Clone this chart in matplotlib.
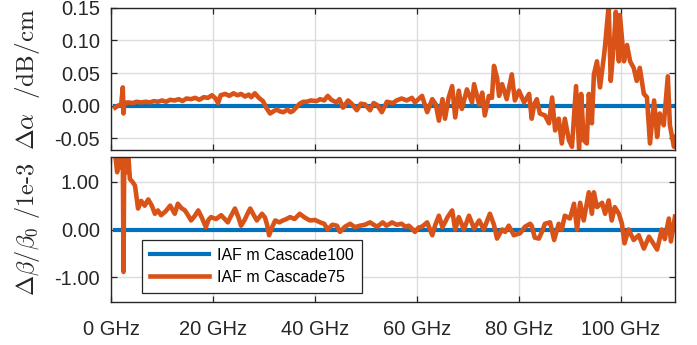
import matplotlib
matplotlib.use("Agg")
import matplotlib.pyplot as plt

plt.rcParams["font.family"] = ["Liberation Sans", "DejaVu Sans"]
plt.rcParams["mathtext.fontset"] = "cm"

# Δα (dB/cm) vs frequency, Cascade75 relative to Cascade100
f_alpha = [0.8, 1.4, 2.0, 2.3, 2.45, 2.6, 3.3, 4.2, 5.0, 5.9, 6.8, 7.6, 8.4, 9.2, 10.0, 10.8,
           11.6, 12.5, 13.3, 14.0, 14.8, 15.7, 16.5, 17.3, 18.2, 19.0, 19.8, 20.5, 21.0, 21.5,
           22.4, 23.2, 24.0, 24.8, 25.5, 26.3, 27.0, 27.5, 28.2, 29.0, 29.8, 30.5, 31.2, 32.0,
           32.5, 33.2, 33.8, 34.6, 35.2, 35.7, 36.4, 37.0, 37.7, 38.4, 39.2, 40.3, 41.0, 41.8,
           42.5, 43.2, 44.2, 44.8, 45.5, 46.5, 47.3, 48.2, 49.0, 49.8, 50.8, 51.5, 52.2, 53.1,
           54.1, 55.3, 56.0, 57.0, 58.0, 59.0, 59.6, 60.3, 61.0, 62.0, 63.0, 63.7, 64.3, 65.0,
           65.5, 66.2, 66.9, 67.5, 68.2, 68.8, 69.8, 70.8, 71.2, 72.2, 72.8, 73.3, 74.1, 74.7,
           75.1, 75.7, 76.1, 76.7, 77.6, 78.6, 79.2, 80.0, 81.0, 82.0, 82.5, 83.0, 83.5, 84.1,
           85.1, 85.9, 86.5, 87.1, 87.8, 88.4, 89.0, 89.8, 90.4, 91.2, 91.8, 92.2, 92.7, 93.3,
           93.7, 94.3, 94.7, 95.3, 95.9, 96.7, 96.9, 97.6, 98.0, 98.6, 99.0, 99.6, 99.8, 100.6,
           101.2, 101.8, 102.5, 103.1, 103.7, 104.5, 105.1, 105.7, 106.5, 107.1, 107.6, 108.4,
           109.2, 109.6, 110.4, 110.8]
d_alpha = [-0.003, 0.000, 0.002, 0.028, -0.012, 0.004, 0.005, 0.004, 0.006, 0.005, 0.006, 0.005,
           0.007, 0.006, 0.008, 0.006, 0.009, 0.008, 0.010, 0.007, 0.011, 0.010, 0.012, 0.009,
           0.013, 0.012, 0.016, 0.011, 0.004, 0.016, 0.018, 0.015, 0.019, 0.016, 0.018, 0.014,
           0.017, 0.013, 0.019, 0.012, 0.007, -0.004, -0.012, -0.008, -0.006, -0.009, -0.010,
           -0.006, -0.010, -0.008, -0.002, 0.003, 0.006, 0.006, 0.008, 0.007, 0.010, 0.008,
           0.015, 0.009, 0.005, 0.010, -0.003, 0.008, 0.002, -0.007, 0.003, 0.002, -0.007,
           0.004, 0.001, -0.010, 0.006, 0.004, 0.008, 0.011, 0.008, 0.012, 0.005, 0.010, 0.015,
           -0.010, 0.010, 0.002, -0.023, 0.010, -0.020, 0.012, 0.030, -0.018, 0.023, -0.005,
           0.025, 0.005, 0.033, 0.002, 0.020, -0.015, 0.015, 0.012, 0.061, 0.043, 0.015, 0.033,
           0.010, 0.048, 0.008, 0.023, 0.005, 0.018, -0.020, 0.002, 0.010, -0.012, -0.015,
           -0.027, 0.0125, -0.038, -0.020, -0.058, -0.020, -0.053, -0.063, 0.030, -0.068, 0.018,
           -0.053, -0.058, 0.018, -0.027, 0.048, 0.068, 0.028, 0.078, 0.093, 0.154, 0.038,
           0.093, 0.144, 0.068, 0.139, 0.068, 0.093, 0.068, 0.058, 0.038, 0.058, 0.018, 0.013,
           -0.058, 0.008, -0.048, -0.012, -0.030, 0.045, -0.030, -0.063, -0.048]

# Δβ/β0 (1e-3) vs frequency
f_beta = [0.8, 1.2, 1.6, 2.0, 2.3, 2.45, 2.6, 3.0, 3.3, 3.7, 4.2, 4.7, 5.3, 5.9, 6.6, 7.3, 8.0,
          8.6, 9.2, 9.8, 10.7, 11.6, 12.5, 13.1, 13.8, 14.5, 15.1, 15.7, 16.4, 17.1, 17.8, 18.6,
          19.1, 19.6, 20.6, 21.6, 22.3, 22.9, 23.6, 24.3, 25.0, 25.5, 26.2, 26.9, 27.3, 28.0,
          28.6, 29.6, 30.2, 30.6, 31.0, 31.6, 32.2, 33.0, 33.7, 34.4, 35.1, 36.0, 37.0, 38.0,
          39.0, 40.0, 41.0, 41.8, 42.5, 43.4, 44.3, 44.9, 45.9, 46.9, 47.8, 48.8, 49.8, 50.8,
          51.5, 52.2, 53.3, 54.0, 54.7, 55.1, 56.0, 57.0, 57.7, 58.4, 59.0, 59.6, 60.3, 61.0,
          62.0, 63.0, 63.6, 64.3, 65.0, 65.5, 66.0, 66.9, 67.5, 68.2, 69.2, 70.2, 71.2, 72.2,
          73.1, 74.3, 75.1, 75.7, 76.7, 77.3, 78.0, 79.0, 80.2, 81.2, 82.2, 82.5, 83.1, 83.9,
          84.5, 85.1, 86.1, 86.9, 87.8, 88.4, 89.0, 90.0, 90.8, 91.4, 92.0, 92.7, 93.7, 94.3,
          94.7, 95.3, 96.3, 96.9, 97.6, 98.2, 98.8, 99.6, 100.2, 100.7, 101.5, 102.5, 103.5,
          104.5, 105.5, 106.1, 107.1, 108.0, 108.6, 109.4, 109.8, 110.6]
d_beta = [1.6, 1.2, 1.7, 1.3, 1.7, -0.89, 1.7, 1.2, 1.7, 1.06, 1.0, 0.92, 0.44, 0.60, 0.50, 0.63,
          0.50, 0.33, 0.40, 0.30, 0.38, 0.50, 0.33, 0.54, 0.45, 0.40, 0.30, 0.19, 0.28, 0.40,
          0.25, 0.05, 0.20, 0.26, 0.22, 0.30, 0.22, 0.15, 0.30, 0.44, 0.25, 0.08, 0.20, 0.36,
          0.44, 0.30, 0.19, 0.33, 0.25, 0.10, -0.12, 0.05, 0.19, 0.15, 0.19, 0.22, 0.26, 0.22,
          0.33, 0.25, 0.19, 0.20, 0.15, 0.12, 0.0, 0.10, 0.08, -0.05, 0.06, 0.12, 0.05, 0.08,
          0.10, 0.15, 0.10, 0.06, 0.15, 0.08, 0.12, 0.15, 0.10, 0.12, 0.06, 0.08, 0.02, -0.05,
          0.04, 0.06, 0.15, -0.12, 0.10, 0.29, 0.05, 0.15, 0.26, 0.40, 0.0, 0.26, 0.0, 0.29,
          0.02, 0.19, 0.0, 0.33, 0.10, -0.19, 0.0, -0.05, 0.08, -0.12, -0.08, 0.06, 0.12, 0.08,
          -0.17, -0.19, -0.05, 0.12, 0.15, -0.22, 0.12, 0.0, 0.29, 0.23, 0.54, 0.0, 0.56, 0.19,
          0.78, 0.33, 0.78, 0.47, 0.56, 0.33, 0.61, 0.19, 0.47, 0.33, 0.12, -0.29, 0.0, -0.22,
          -0.12, -0.40, -0.15, -0.25, -0.42, 0.0, -0.20, 0.23, -0.25, 0.27]

f_ref = [0.8, 110.8]
d_ref = [0.0, 0.0]

labels = ["IAF m Cascade100", "IAF m Cascade75"]
xticks = [0, 20, 40, 60, 80, 100]
xticklabels = ["0 GHz", "20 GHz", "40 GHz", "60 GHz", "80 GHz", "100 GHz"]

c_blue = "#0072BD"
c_orange = "#D95319"
dark = "#262626"

fig = plt.figure(figsize=(6.97, 3.45), dpi=100)
ax1 = fig.add_axes([0.1593, 0.5652, 0.8091, 0.4120])
ax2 = fig.add_axes([0.1593, 0.1246, 0.8091, 0.4203])

for ax in (ax1, ax2):
    ax.set_xlim(0, 110.6)
    ax.set_xticks(xticks)
    ax.grid(True, color="#dcdcdc", linewidth=1.0)
    ax.set_axisbelow(True)
    ax.tick_params(direction="in", top=True, right=True, length=4.5, width=0.9,
                   colors=dark, labelsize=14.5, pad=8)
    for s in ax.spines.values():
        s.set_color(dark)
        s.set_linewidth(1.0)

ax1.plot(f_ref, d_ref, color=c_blue, lw=3.0, label=labels[0])
ax1.plot(f_alpha, d_alpha, color=c_orange, lw=3.3, solid_joinstyle="round", label=labels[1])
ax1.set_ylim(-0.068, 0.15)
ax1.set_yticks([-0.05, 0.0, 0.05, 0.10, 0.15])
ax1.set_yticklabels(["-0.05", "0.00", "0.05", "0.10", "0.15"])
ax1.set_xticklabels([])
ax1.set_ylabel(r"$\Delta\alpha\ \ /\mathrm{dB/cm}$", fontsize=18, color=dark)

ax2.plot(f_ref, d_ref, color=c_blue, lw=3.0, label=labels[0])
ax2.plot(f_beta, d_beta, color=c_orange, lw=3.3, solid_joinstyle="round", label=labels[1])
ax2.set_ylim(-1.52, 1.52)
ax2.set_yticks([-1, 0, 1])
ax2.set_yticklabels(["-1.00", "0.00", "1.00"])
ax2.set_xticklabels(xticklabels)
ax2.tick_params(axis="x", pad=13)
ax2.set_ylabel(r"$\Delta\beta/\beta_0\ /\mathrm{1e\text{-}3}$", fontsize=17.5, color=dark)

for ax in (ax1, ax2):
    ax.yaxis.set_label_coords(-0.123, 0.5)

leg = ax2.legend(loc="lower left", bbox_to_anchor=(0.055, 0.062), fontsize=11.5,
                 handlelength=3.7, handletextpad=0.5, frameon=True, fancybox=False,
                 framealpha=1, edgecolor=dark, borderpad=0.5, labelspacing=0.45,
                 borderaxespad=0)
leg.get_frame().set_linewidth(0.9)

fig.savefig("out.png", dpi=100)
